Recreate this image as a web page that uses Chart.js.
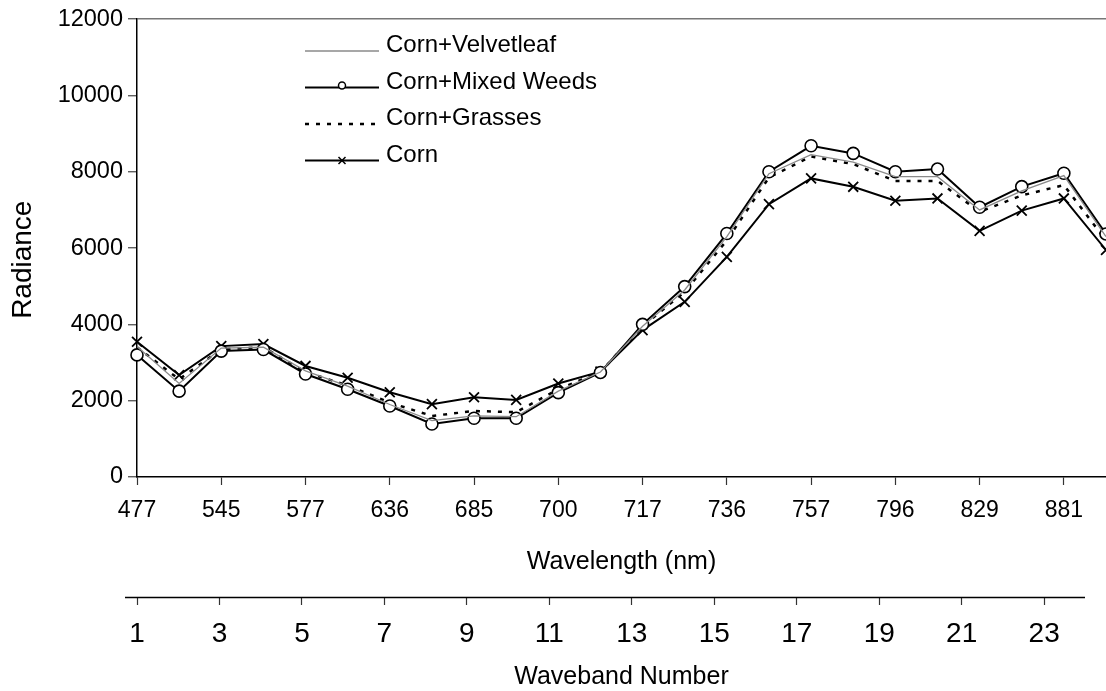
<!DOCTYPE html>
<html lang="en">
<head>
  <meta charset="UTF-8" />
  <title>Radiance by Waveband</title>
  <script src="https://cdn.jsdelivr.net/npm/chart.js"></script>
  <style>
    html, body { margin: 0; padding: 0; background: #fff; overflow: hidden; }
    #wrap { position: relative; width: 1106px; height: 691px; }
  </style>
</head>
<body>
  <div id="wrap"><canvas id="chart"></canvas></div>

  <script>
    // Data
    const wavebands = [1, 2, 3, 4, 5, 6, 7, 8, 9, 10, 11, 12, 13, 14, 15, 16, 17, 18, 19, 20, 21, 22, 23, 24];
    const wavelengthTicks = ['477', '545', '577', '636', '685', '700', '717', '736', '757', '796', '829', '881'];
    const wavebandTicks = [1, 3, 5, 7, 9, 11, 13, 15, 17, 19, 21, 23];

    const velvetleaf = [3420, 2450, 3380, 3400, 2780, 2380, 1900, 1480, 1600, 1580, 2250, 2750, 3950, 4900, 6300, 7950, 8450, 8250, 7870, 7870, 7000, 7500, 7900, 6300];
    const mixedWeeds = [3200, 2250, 3300, 3340, 2700, 2300, 1860, 1390, 1540, 1540, 2210, 2740, 4000, 4990, 6380, 8000, 8680, 8480, 8000, 8070, 7070, 7610, 7960, 6370];
    const grasses = [3400, 2560, 3350, 3400, 2750, 2400, 1950, 1600, 1730, 1700, 2300, 2750, 3950, 4850, 6200, 7850, 8400, 8200, 7760, 7760, 6950, 7380, 7650, 6200];
    const corn = [3545, 2670, 3430, 3485, 2910, 2600, 2220, 1910, 2090, 2020, 2450, 2760, 3850, 4590, 5770, 7150, 7825, 7605, 7240, 7300, 6450, 6980, 7300, 5950];

    const FONT = 'Liberation Sans, Arial, sans-serif';

    // legend drawn inside the plot, Excel style, plus the short line of the waveband axis
    const insideLegend = {
      id: 'insideLegend',
      afterDraw(chart) {
        const ctx = chart.ctx;
        const x0 = 305, x1 = 379, tx = 386;
        let y = 52;
        chart.data.datasets.forEach(ds => {
          ctx.save();
          ctx.strokeStyle = ds.borderColor;
          ctx.lineWidth = ds.borderWidth;
          ctx.setLineDash(ds.borderDash || []);
          ctx.beginPath();
          ctx.moveTo(x0, y - 1);
          ctx.lineTo(x1, y - 1);
          ctx.stroke();
          ctx.setLineDash([]);
          const mx = (x0 + x1) / 2;
          if (ds.pointStyle === 'circle') {
            ctx.fillStyle = '#fff';
            ctx.lineWidth = 1.5;
            ctx.beginPath();
            ctx.arc(mx, y - 3, 3.5, 0, Math.PI * 2);
            ctx.fill();
            ctx.stroke();
          } else if (ds.pointStyle === 'crossRot') {
            ctx.lineWidth = 1.5;
            ctx.beginPath();
            ctx.moveTo(mx - 3.5, y - 4.5); ctx.lineTo(mx + 3.5, y + 2.5);
            ctx.moveTo(mx - 3.5, y + 2.5); ctx.lineTo(mx + 3.5, y - 4.5);
            ctx.stroke();
          }
          ctx.fillStyle = '#000';
          ctx.font = '24px ' + FONT;
          ctx.textBaseline = 'alphabetic';
          ctx.textAlign = 'left';
          ctx.fillText(ds.label, tx, y);
          ctx.restore();
          y += 36.5;
        });

        const s = chart.scales.x2;
        ctx.save();
        ctx.strokeStyle = '#000';
        ctx.lineWidth = 1.3;
        ctx.beginPath();
        ctx.moveTo(s.left - 12, s.top + 0.5);
        ctx.lineTo(s.right - 21, s.top + 0.5);
        ctx.stroke();
        ctx.restore();
      }
    };

    new Chart(document.getElementById('chart'), {
      type: 'line',
      data: {
        labels: wavebands,
        datasets: [
          { label: 'Corn+Velvetleaf', data: velvetleaf, borderColor: '#8a8a8a', borderWidth: 1.3, pointRadius: 0, pointStyle: false },
          { label: 'Corn+Mixed Weeds', data: mixedWeeds, borderColor: '#000', borderWidth: 2, pointStyle: 'circle', pointRadius: 6, pointBorderWidth: 1.6, pointBackgroundColor: '#fff', pointBorderColor: '#000' },
          { label: 'Corn+Grasses', data: grasses, borderColor: '#000', borderWidth: 2.5, borderDash: [4, 7], pointRadius: 0, pointStyle: false },
          { label: 'Corn', data: corn, borderColor: '#000', borderWidth: 2, pointStyle: 'crossRot', pointRadius: 7, pointBorderWidth: 1.8, pointBorderColor: '#000' }
        ]
      },
      options: {
        responsive: true,
        maintainAspectRatio: false,
        animation: false,
        layout: { autoPadding: false, padding: { top: 19, right: 0, bottom: 0, left: 0 } },
        plugins: { legend: { display: false }, tooltip: { enabled: false } },
        scales: {
          x: {
            position: 'bottom',
            offset: false,
            afterFit: s => { s.height = 120; },
            afterBuildTicks: s => { s.ticks = s.ticks.filter(t => t.value % 2 === 0); },
            border: { display: true, color: '#000', width: 1.5 },
            grid: { drawOnChartArea: false, tickLength: 8, tickColor: '#333', tickWidth: 1.2 },
            ticks: {
              autoSkip: false, maxRotation: 0, padding: 12, color: '#000',
              font: { family: FONT, size: 23 },
              callback: v => wavelengthTicks[v / 2]
            },
            title: { display: true, text: 'Wavelength (nm)', color: '#000', font: { family: FONT, size: 25 }, padding: { top: 0, bottom: 20 } }
          },
          x2: {
            type: 'linear',
            position: 'bottom',
            min: 1,
            max: 24.5,
            afterFit: s => { s.height = 94; },
            afterBuildTicks: s => { s.ticks = wavebandTicks.map(v => ({ value: v })); },
            border: { display: false },
            grid: { drawOnChartArea: false, tickLength: 8, tickColor: '#333', tickWidth: 1.2 },
            ticks: { autoSkip: false, maxRotation: 0, padding: 12, color: '#000', font: { family: FONT, size: 28 } },
            title: { display: true, text: 'Waveband Number', color: '#000', font: { family: FONT, size: 25, lineHeight: 1.1 }, padding: { top: 0, bottom: 0 } }
          },
          y: {
            min: 0,
            max: 12000,
            afterFit: s => { s.width = 137; },
            border: { display: true, color: '#000', width: 1.5 },
            grid: {
              drawOnChartArea: true, tickLength: 9, tickWidth: 1.2, tickColor: '#444',
              color: c => c.tick && c.tick.value === 12000 ? '#777' : 'rgba(0,0,0,0)',
              lineWidth: 1.5
            },
            ticks: { stepSize: 2000, padding: 5, color: '#000', font: { family: FONT, size: 23.5 }, callback: v => String(v) },
            title: { display: true, text: 'Radiance   ', color: '#000', font: { family: FONT, size: 28 }, padding: { top: 6, bottom: 0 } }
          }
        }
      },
      plugins: [insideLegend]
    });
  </script>
</body>
</html>
